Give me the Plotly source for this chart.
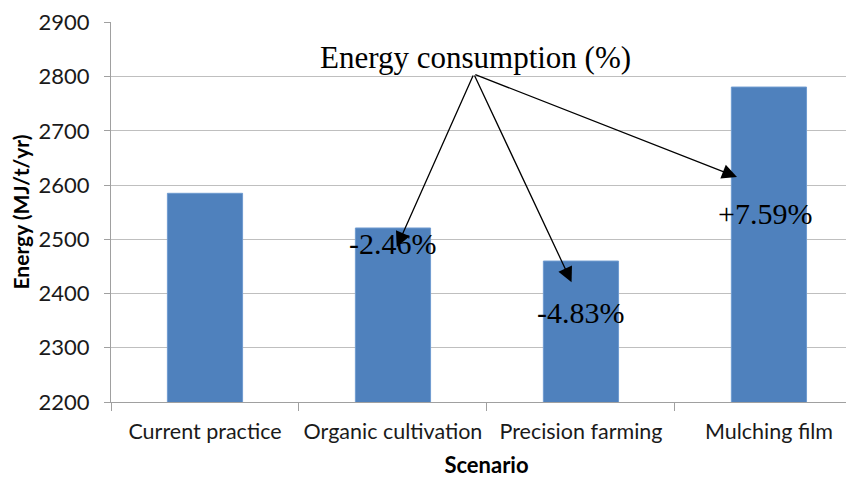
import plotly.graph_objects as go

categories = ["Current practice", "Organic cultivation", "Precision farming", "Mulching film"]
energy = [2585, 2521, 2460, 2781]
change_labels = ["", "-2.46%", "-4.83%", "+7.59%"]
y_ticks = [2200, 2300, 2400, 2500, 2600, 2700, 2800, 2900]

fig = go.Figure()
fig.add_trace(go.Bar(x=categories, y=energy, width=0.4,
                     marker=dict(color="#4f81bd", line=dict(color="#6f9bd0", width=1))))

# arrows from the common label to each scenario
src_x, src_y = 1.43, 2805
arrow_tips = [(1.02, 2486), (1.95, 2421), (2.83, 2615)]
for tx, ty in arrow_tips:
    fig.add_annotation(x=tx, y=ty, ax=src_x, ay=src_y, xref="x", yref="y",
                       axref="x", ayref="y", showarrow=True, arrowhead=2,
                       arrowsize=2.3, arrowwidth=1.3, arrowcolor="black", text="")

fig.add_annotation(x=1.44, y=2836, xref="x", yref="y", text="Energy consumption (%)",
                   showarrow=False, font=dict(family="Liberation Serif", size=31, color="black"))

label_pos = [(None, None), (0.995, 2492), (1.995, 2365), (2.98, 2547)]
for lab, (lx, ly) in zip(change_labels, label_pos):
    if lab:
        fig.add_annotation(x=lx, y=ly, xref="x", yref="y", text=lab, showarrow=False,
                           font=dict(family="Liberation Serif", size=30, color="black"))

fig.update_layout(
    width=854, height=478,
    margin=dict(l=103, r=0, t=14, b=84),
    plot_bgcolor="white", paper_bgcolor="white",
    showlegend=False,
    font=dict(family="Lato", color="black"),
    xaxis=dict(range=[-0.5, 3.495], showgrid=False, showline=True, linecolor="#a0a0a0",
               ticks="outside", tickson="boundaries", ticklen=8, tickcolor="#a0a0a0",
               tickfont=dict(size=21.5, color="#1a1a1a"), automargin=False, tickangle=0,
               ticklabelstandoff=10,
               title=dict(text="<b>Scenario</b>", font=dict(size=22), standoff=14)),
    yaxis=dict(range=[2200, 2901], tickvals=y_ticks, showgrid=True, gridcolor="#bfbfbf",
               gridwidth=1, showline=True, linecolor="#a0a0a0", ticks="outside",
               ticklen=6, tickcolor="#a0a0a0", zeroline=False, automargin=False,
               tickfont=dict(size=22, color="#1a1a1a"), ticklabelstandoff=10,
               title=dict(text="<b>Energy (MJ/t/yr)</b>", font=dict(size=21), standoff=8)),
)

fig.write_html("out.html")
